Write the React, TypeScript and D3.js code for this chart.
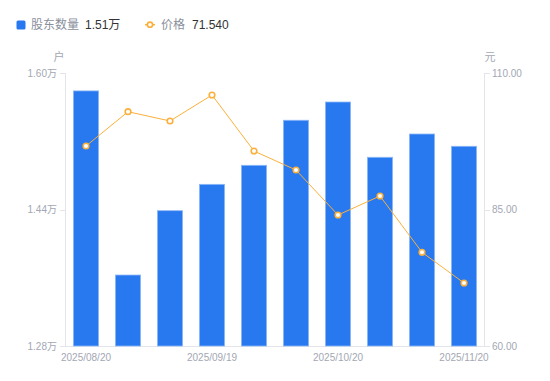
import React from "react";
import * as d3 from "d3";

const dates = ["2025/08/20", "2025/08/29", "2025/09/10", "2025/09/19", "2025/09/30", "2025/10/10", "2025/10/20", "2025/10/31", "2025/11/10", "2025/11/20"];
const holders = [1.579, 1.3632, 1.4386, 1.4695, 1.4918, 1.5446, 1.566, 1.5012, 1.5285, 1.5141];
const prices = [96.63, 102.91, 101.21, 105.97, 95.71, 92.23, 83.99, 87.47, 77.16, 71.54];
const leftTicks = [1.28, 1.44, 1.6];
const rightTicks = [60, 85, 110];
const shownDates = ["2025/08/20", "2025/09/19", "2025/10/20", "2025/11/20"];

const W = 550, H = 381;
const M = { left: 65, right: 485, top: 73, bottom: 346 };
const FONT = "'Liberation Sans', Arial, 'Noto Sans CJK SC', sans-serif";

export default function App() {
  const x = d3.scaleBand<string>().domain(dates).range([M.left, M.right]).paddingInner(0.4).paddingOuter(0.2);
  const yL = d3.scaleLinear().domain([1.28, 1.6]).range([M.bottom, M.top]);
  const yR = d3.scaleLinear().domain([60, 110]).range([M.bottom, M.top]);
  const step = x.step();
  const cx = (d: string) => (x(d) as number) + x.bandwidth() / 2;
  const line = d3.line<number>().x((_, i) => cx(dates[i])).y((v) => yR(v));
  const axisColor = "#e3e5ea";
  const tickText = "#a3a7b3";

  return (
    <svg width={W} height={H} style={{ position: "absolute", left: 0, top: 0, fontFamily: FONT }}>
      {/* legend */}
      <rect x={16.5} y={20.5} width={9} height={9} rx={1.5} fill="#2878f0" />
      <text x={31} y={29} fontSize={12} fill="#8a8f9c">股东数量</text>
      <text x={85} y={29} fontSize={12} fill="#333">1.51万</text>
      <line x1={145} x2={155} y1={24.7} y2={24.7} stroke="#fbb03b" strokeWidth={1.5} />
      <circle cx={150} cy={24.7} r={2.6} fill="#fff" stroke="#fbb03b" strokeWidth={1.6} />
      <text x={161} y={29} fontSize={12} fill="#8a8f9c">价格</text>
      <text x={192} y={29} fontSize={12} fill="#333">71.540</text>

      {/* axis unit labels */}
      <text x={59} y={61} fontSize={11} fill={tickText} textAnchor="middle">户</text>
      <text x={490} y={61} fontSize={11} fill={tickText} textAnchor="middle">元</text>

      {/* axes */}
      <line x1={M.left + 0.5} x2={M.left + 0.5} y1={M.top} y2={M.bottom} stroke={axisColor} />
      <line x1={M.right - 0.5} x2={M.right - 0.5} y1={M.top} y2={M.bottom} stroke={axisColor} />
      <line x1={M.left - 5} x2={M.right + 5} y1={M.bottom + 0.5} y2={M.bottom + 0.5} stroke={axisColor} />
      {leftTicks.map((t) => (
        <g key={"l" + t}>
          <line x1={M.left - 5} x2={M.left} y1={Math.round(yL(t)) + 0.5} y2={Math.round(yL(t)) + 0.5} stroke={axisColor} />
          <text x={57} y={yL(t) + 3.5} fontSize={10} fill={tickText} textAnchor="end">{t.toFixed(2) + "万"}</text>
        </g>
      ))}
      {rightTicks.map((t) => (
        <g key={"r" + t}>
          <line x1={M.right} x2={M.right + 5} y1={Math.round(yR(t)) + 0.5} y2={Math.round(yR(t)) + 0.5} stroke={axisColor} />
          <text x={492} y={yR(t) + 3.5} fontSize={10} fill={tickText} textAnchor="start">{t.toFixed(2)}</text>
        </g>
      ))}

      {/* bars */}
      {holders.map((v, i) => (
        <rect key={i} x={x(dates[i])} y={yL(v)} width={x.bandwidth()} height={M.bottom - yL(v)}
          fill="#2878f0" stroke="#8db8f7" strokeWidth={0.8} />
      ))}

      {/* x labels */}
      {shownDates.map((d) => (
        <text key={d} x={cx(d)} y={361} fontSize={10} fill={tickText} textAnchor="middle">{d}</text>
      ))}

      {/* price line */}
      <path d={line(prices) || ""} fill="none" stroke="#fbb03b" strokeWidth={1} />
      {prices.map((v, i) => (
        <circle key={i} cx={cx(dates[i])} cy={yR(v)} r={2.8} fill="#fff" stroke="#fbb03b" strokeWidth={1.6} />
      ))}
    </svg>
  );
}
